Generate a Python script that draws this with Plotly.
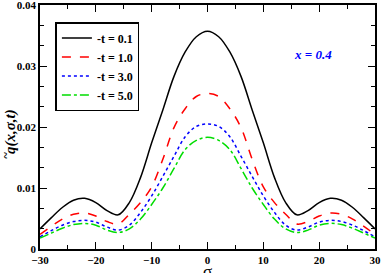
import plotly.graph_objects as go

sigma = [-30, -28, -26, -24, -22, -20, -18, -16, -14, -12, -10, -8, -6, -4, -2, 0,
         2, 4, 6, 8, 10, 12, 14, 16, 18, 20, 22, 24, 26, 28, 30]

q_t01 = [0.0033, 0.0051, 0.0068, 0.0080, 0.0083, 0.0076, 0.0063, 0.0056, 0.0076, 0.0117,
         0.0174, 0.0228, 0.0283, 0.0323, 0.0348, 0.0357,
         0.0348, 0.0323, 0.0283, 0.0228, 0.0174, 0.0117, 0.0076, 0.0056, 0.0063, 0.0076,
         0.0083, 0.0080, 0.0068, 0.0051, 0.0033]
q_t10 = [0.0024, 0.0037, 0.0049, 0.0057, 0.0059, 0.0054, 0.0045, 0.0041, 0.0057, 0.0076,
         0.0102, 0.0147, 0.0199, 0.0230, 0.0250, 0.0255,
         0.0250, 0.0230, 0.0199, 0.0147, 0.0102, 0.0076, 0.0057, 0.0041, 0.0045, 0.0054,
         0.0059, 0.0057, 0.0049, 0.0037, 0.0024]
q_t30 = [0.0020, 0.0030, 0.0039, 0.0045, 0.0047, 0.0044, 0.0036, 0.0031, 0.0039, 0.0060,
         0.0087, 0.0119, 0.0152, 0.0184, 0.0201, 0.0205,
         0.0201, 0.0184, 0.0152, 0.0119, 0.0087, 0.0060, 0.0039, 0.0031, 0.0036, 0.0044,
         0.0047, 0.0045, 0.0039, 0.0030, 0.0020]
q_t50 = [0.0018, 0.0026, 0.0034, 0.0040, 0.0042, 0.0039, 0.0031, 0.0027, 0.0033, 0.0049,
         0.0073, 0.0100, 0.0132, 0.0163, 0.0178, 0.0183,
         0.0178, 0.0163, 0.0132, 0.0100, 0.0073, 0.0049, 0.0033, 0.0027, 0.0031, 0.0039,
         0.0042, 0.0040, 0.0034, 0.0026, 0.0018]

series_names = ["-t = 0.1", "-t = 1.0", "-t = 3.0", "-t = 5.0"]
series_values = [q_t01, q_t10, q_t30, q_t50]
colors = ["#000000", "#ff0000", "#0000ff", "#00dd00"]
dashes = ["solid", "dash", "dot", "dashdot"]

x_ticks = [-30, -20, -10, 0, 10, 20, 30]
y_ticks = [0, 0.01, 0.02, 0.03, 0.04]
y_ticktext = ["0", "0.01", "0.02", "0.03", "0.04"]

SERIF = "Liberation Serif"

fig = go.Figure()
for name, vals, c, d in zip(series_names, series_values, colors, dashes):
    fig.add_trace(go.Scatter(x=sigma, y=vals, name=name, mode="lines",
                             line=dict(color=c, dash=d, width=1.5, shape="spline", smoothing=1.0)))

axis_common = dict(showline=True, linecolor="black", linewidth=1.5, mirror="ticks",
                   ticks="inside", ticklen=7, tickwidth=1.2, tickcolor="black",
                   showgrid=False, zeroline=False, automargin=False,
                   ticklabeloverflow="allow",
                   tickfont=dict(family=SERIF, size=11, color="black", weight="bold"))

fig.update_layout(
    width=382, height=273,
    margin=dict(l=40, r=7, t=5, b=24),
    paper_bgcolor="white", plot_bgcolor="white",
    showlegend=True,
    legend=dict(x=0.046, y=0.93, xanchor="left", yanchor="top",
                bgcolor="white", bordercolor="black", borderwidth=1.5,
                font=dict(family=SERIF, size=12, color="black", weight="bold"),
                itemwidth=30, tracegroupgap=0),
    xaxis=dict(range=[-30, 30], tickvals=x_ticks,
               minor=dict(dtick=5, ticks="inside", ticklen=4, tickcolor="black", tickwidth=1.2),
               **axis_common),
    yaxis=dict(range=[0, 0.04], tickvals=y_ticks, ticktext=y_ticktext,
               minor=dict(dtick=0.01 / 3, ticks="inside", ticklen=4, tickcolor="black", tickwidth=1.2),
               **axis_common),
    annotations=[
        dict(text="x = 0.4", xref="paper", yref="paper", x=0.814, y=0.797,
             xanchor="center", yanchor="middle",
             showarrow=False, font=dict(family=SERIF, size=13, color="#0000ff", weight="bold", style="italic")),
        dict(text="σ", xref="paper", yref="paper", x=0.5, y=-0.093, xanchor="center", yanchor="middle",
             showarrow=False, font=dict(family=SERIF, size=17, color="black")),
        dict(text="q(x,σ,t)", xref="paper", yref="paper", x=-0.09, y=0.483,
             xanchor="center", yanchor="middle",
             textangle=-90, showarrow=False,
             font=dict(family=SERIF, size=15, color="black", weight="bold", style="italic")),
        dict(text="~", xref="paper", yref="paper", x=-0.1, y=0.385,
             xanchor="center", yanchor="middle",
             textangle=-90, showarrow=False,
             font=dict(family=SERIF, size=12, color="black", weight="bold")),
    ],
)

fig.write_html("out.html", config={"displayModeBar": False},
               post_script="document.body.style.margin='0';document.body.style.padding='0';")
